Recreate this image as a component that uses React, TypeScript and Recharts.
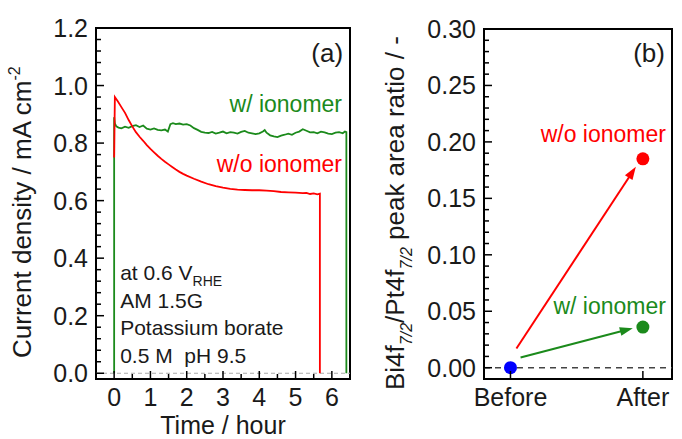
import React from "react";
import {
  ComposedChart,
  Line,
  Scatter,
  XAxis,
  YAxis,
  ReferenceLine,
  ReferenceArea,
  ReferenceDot,
} from "recharts";

const FONT = '"Liberation Sans", Arial, sans-serif';
const GREEN = "#1b8a1b";
const RED = "#ff0000";
const BLUE = "#0000ff";
const INK = "#1a1a1a";

// (a) chronoamperometry, current density vs time
const ionomerTime = [0, 0, 0.02, 0.06, 0.12, 0.2, 0.3, 0.4, 0.5, 0.6, 0.7, 0.8, 0.9, 1.0, 1.1, 1.2, 1.3, 1.4, 1.48, 1.55, 1.62, 1.7, 1.8, 1.9, 2.0, 2.1, 2.2, 2.3, 2.4, 2.5, 2.6, 2.7, 2.8, 2.9, 3.0, 3.1, 3.2, 3.3, 3.4, 3.5, 3.6, 3.7, 3.8, 3.9, 4.0, 4.1, 4.15, 4.2, 4.3, 4.4, 4.5, 4.6, 4.7, 4.8, 4.9, 5.0, 5.1, 5.2, 5.3, 5.4, 5.5, 5.6, 5.7, 5.8, 5.9, 6.0, 6.1, 6.2, 6.3, 6.36, 6.4, 6.4];
const ionomerCurrent = [0, 0.89, 0.868, 0.858, 0.854, 0.851, 0.857, 0.853, 0.859, 0.862, 0.856, 0.861, 0.85, 0.847, 0.851, 0.846, 0.844, 0.847, 0.84, 0.866, 0.869, 0.866, 0.868, 0.864, 0.866, 0.861, 0.852, 0.846, 0.839, 0.836, 0.835, 0.839, 0.833, 0.836, 0.84, 0.834, 0.838, 0.836, 0.833, 0.839, 0.842, 0.836, 0.834, 0.831, 0.834, 0.84, 0.845, 0.836, 0.827, 0.823, 0.821, 0.826, 0.829, 0.833, 0.829, 0.836, 0.84, 0.848, 0.843, 0.837, 0.838, 0.834, 0.84, 0.837, 0.833, 0.831, 0.836, 0.838, 0.834, 0.84, 0.838, 0];
const bareTime = [0, 0.02, 0.1, 0.2, 0.3, 0.4, 0.5, 0.6, 0.7, 0.8, 0.9, 1.0, 1.1, 1.2, 1.3, 1.4, 1.5, 1.6, 1.7, 1.8, 1.9, 2.0, 2.2, 2.4, 2.6, 2.8, 3.0, 3.2, 3.4, 3.6, 3.8, 4.0, 4.2, 4.4, 4.6, 4.8, 5.0, 5.2, 5.3, 5.4, 5.5, 5.6, 5.67, 5.67];
const bareCurrent = [0.75, 0.96, 0.945, 0.925, 0.905, 0.88, 0.858, 0.838, 0.822, 0.808, 0.793, 0.78, 0.768, 0.756, 0.745, 0.735, 0.726, 0.717, 0.708, 0.7, 0.693, 0.687, 0.676, 0.666, 0.657, 0.65, 0.645, 0.641, 0.638, 0.637, 0.636, 0.636, 0.635, 0.633, 0.63, 0.629, 0.628, 0.626, 0.627, 0.623, 0.625, 0.622, 0.624, 0];

const timeDomain = [-0.5, 6.5];
const currentDomain = [-0.02, 1.2];
const timeLabels = [0, 1, 2, 3, 4, 5, 6];
const currentLabels = [0, 0.2, 0.4, 0.6, 0.8, 1.0, 1.2];
const infoLines = ["AM 1.5G", "Potassium borate", "0.5 M\u00a0\u00a0pH 9.5"];

// (b) XPS peak area ratio
const stageLabels = ["Before", "After"];
const beforeRatio = [0];
const bareRatio = [0, 0.185];
const ionomerRatio = [0, 0.036];
const bareArrow = [[0.045, 0.017], [0.947, 0.178]];
const ionomerArrow = [[0.076, 0.009], [0.924, 0.035]];
const ratioDomain = [-0.01, 0.3];
const stageDomain = [-0.2, 1.22];
const ratioLabels = [0, 0.05, 0.1, 0.15, 0.2, 0.25, 0.3];

const zip = (xs: number[], ys: number[]) => xs.map((x, i) => ({ x, y: ys[i] }));
const ionomerRows = zip(ionomerTime, ionomerCurrent);
const bareRows = zip(bareTime, bareCurrent);

// minor ticks filled in between the labelled ones
const withMinor = (labels: number[], parts: number) => {
  const out: number[] = [];
  labels.forEach((v, i) => {
    out.push(v);
    if (i < labels.length - 1) {
      const step = (labels[i + 1] - v) / parts;
      for (let k = 1; k < parts; k++) out.push(+(v + step * k).toFixed(4));
    }
  });
  return out;
};

const isLabel = (labels: number[], v: number) => labels.some((l) => Math.abs(l - v) < 1e-6);

const yTick = (labels: number[], digits: number) => (p: any) => {
  const { x, y, payload } = p;
  const major = isLabel(labels, payload.value);
  return (
    <g>
      <line x1={x} y1={y} x2={x + (major ? 8 : 5)} y2={y} stroke="#000" strokeWidth={1.5} />
      {major && (
        <text x={x - 8} y={y} dy="0.36em" textAnchor="end" fontSize={25} fontFamily={FONT} fill={INK}>
          {payload.value.toFixed(digits)}
        </text>
      )}
    </g>
  );
};

const xTick = (labels: number[], fmt: (v: number) => string) => (p: any) => {
  const { x, y, payload } = p;
  const major = isLabel(labels, payload.value);
  return (
    <g>
      <line x1={x} y1={y} x2={x} y2={y - (major ? 8 : 5)} stroke="#000" strokeWidth={1.5} />
      {major && (
        <text x={x} y={y + 27} textAnchor="middle" fontSize={25} fontFamily={FONT} fill={INK}>
          {fmt(payload.value)}
        </text>
      )}
    </g>
  );
};

const Arrow = (p: any) => {
  const { x1, y1, x2, y2, stroke } = p;
  const dx = x2 - x1;
  const dy = y2 - y1;
  const len = Math.hypot(dx, dy) || 1;
  const ux = dx / len;
  const uy = dy / len;
  const head = 13;
  const half = 4.5;
  const bx = x2 - ux * head;
  const by = y2 - uy * head;
  return (
    <g>
      <line x1={x1} y1={y1} x2={bx + ux * 2} y2={by + uy * 2} stroke={stroke} strokeWidth={2} />
      <polygon
        points={`${x2},${y2} ${bx - uy * half},${by + ux * half} ${bx + uy * half},${by - ux * half}`}
        fill={stroke}
      />
    </g>
  );
};

const note = (text: string, color: string, size: number, anchor: "start" | "end" = "end") => (p: any) => {
  const vb = p.viewBox || {};
  return (
    <text x={vb.x} y={vb.y} textAnchor={anchor} fontSize={size} fontFamily={FONT} fill={color}>
      {text}
    </text>
  );
};

const infoBlock = (p: any) => {
  const vb = p.viewBox || {};
  return (
    <text x={vb.x} y={vb.y} fontSize={21} fontFamily={FONT} fill={INK}>
      <tspan x={vb.x}>at 0.6 V</tspan>
      <tspan fontSize={14} dy={6}>RHE</tspan>
      {infoLines.map((t, i) => (
        <tspan key={t} x={vb.x} dy={i === 0 ? 22 : 27.5}>
          {t}
        </tspan>
      ))}
    </text>
  );
};

function CurrentPanel() {
  return (
    <ComposedChart width={360} height={439} margin={{ top: 28, right: 10, left: 0, bottom: 0 }}>
      <XAxis
        type="number"
        dataKey="x"
        domain={timeDomain}
        allowDataOverflow
        ticks={withMinor(timeLabels, 2)}
        interval={0}
        tickSize={0}
        tickMargin={0}
        tickLine={false}
        axisLine={false}
        height={60}
        tick={xTick(timeLabels, (v) => String(v))}
        label={(p: any) => {
          const vb = p.viewBox || {};
          return (
            <text x={vb.x + vb.width / 2} y={vb.y + 55} textAnchor="middle" fontSize={25} fontFamily={FONT} fill={INK}>
              Time / hour
            </text>
          );
        }}
      />
      <YAxis
        type="number"
        domain={currentDomain}
        allowDataOverflow
        ticks={withMinor(currentLabels, 5)}
        interval={0}
        tickSize={0}
        tickMargin={0}
        tickLine={false}
        axisLine={false}
        width={96}
        tick={yTick(currentLabels, 1)}
        label={(p: any) => {
          const vb = p.viewBox || {};
          const x = vb.x + 31;
          const y = vb.y + 330;
          return (
            <text transform={`translate(${x},${y}) rotate(-90)`} fontSize={26} fontFamily={FONT} fill={INK}>
              Current density / mA cm
              <tspan fontSize={16} dy={-11}>-2</tspan>
            </text>
          );
        }}
      />
      <ReferenceLine y={0} stroke="#aaaaaa" strokeWidth={1.2} strokeDasharray="4 3" />
      <Line data={ionomerRows} dataKey="y" type="linear" stroke={GREEN} strokeWidth={1.8} dot={false} isAnimationActive={false} />
      <Line data={bareRows} dataKey="y" type="linear" stroke={RED} strokeWidth={1.8} dot={false} isAnimationActive={false} />
      <ReferenceArea
        x1={timeDomain[0]}
        x2={timeDomain[1]}
        y1={currentDomain[0]}
        y2={currentDomain[1]}
        fill="none"
        stroke="#000"
        strokeWidth={2}
        fillOpacity={0}
      />
      <ReferenceDot x={6.31} y={1.082} r={0} fill="none" stroke="none" label={note("(a)", INK, 26)} />
      <ReferenceDot x={6.28} y={0.908} r={0} fill="none" stroke="none" label={note("w/ ionomer", GREEN, 23)} />
      <ReferenceDot x={6.28} y={0.7} r={0} fill="none" stroke="none" label={note("w/o ionomer", RED, 23)} />
      <ReferenceDot x={0.165} y={0.325} r={0} fill="none" stroke="none" label={infoBlock} />
    </ComposedChart>
  );
}

function RatioPanel() {
  const dotShape = (color: string) => (p: any) => <circle cx={p.cx} cy={p.cy} r={6.5} fill={color} />;
  return (
    <ComposedChart width={322} height={439} margin={{ top: 29, right: 10, left: 0, bottom: 0 }}>
      <XAxis
        type="number"
        dataKey="x"
        domain={stageDomain}
        allowDataOverflow
        ticks={[0, 1]}
        interval={0}
        tickSize={0}
        tickMargin={0}
        tickLine={false}
        axisLine={false}
        height={60}
        tick={xTick([0, 1], (v) => stageLabels[v])}
      />
      <YAxis
        type="number"
        dataKey="y"
        domain={ratioDomain}
        allowDataOverflow
        ticks={withMinor(ratioLabels, 5)}
        interval={0}
        tickSize={0}
        tickMargin={0}
        tickLine={false}
        axisLine={false}
        width={124}
        tick={yTick(ratioLabels, 2)}
        label={(p: any) => {
          const vb = p.viewBox || {};
          const x = vb.x + 44;
          const y = vb.y + 361;
          return (
            <text transform={`translate(${x},${y}) rotate(-90)`} fontSize={26} fontFamily={FONT} fill={INK}>
              Bi4f
              <tspan fontSize={16} fontStyle="italic" dy={8}>7/2</tspan>
              <tspan dy={-8}>/Pt4f</tspan>
              <tspan fontSize={16} fontStyle="italic" dy={8}>7/2</tspan>
              <tspan dy={-8}> peak area ratio / -</tspan>
            </text>
          );
        }}
      />
      <ReferenceLine y={0} stroke="#444" strokeWidth={1.5} strokeDasharray="6 5" />
      <ReferenceLine
        segment={[
          { x: bareArrow[0][0], y: bareArrow[0][1] },
          { x: bareArrow[1][0], y: bareArrow[1][1] },
        ]}
        stroke={RED}
        shape={Arrow}
      />
      <ReferenceLine
        segment={[
          { x: ionomerArrow[0][0], y: ionomerArrow[0][1] },
          { x: ionomerArrow[1][0], y: ionomerArrow[1][1] },
        ]}
        stroke={GREEN}
        shape={Arrow}
      />
      <Scatter data={[{ x: 1, y: bareRatio[1] }]} fill={RED} shape={dotShape(RED)} isAnimationActive={false} />
      <Scatter data={[{ x: 1, y: ionomerRatio[1] }]} fill={GREEN} shape={dotShape(GREEN)} isAnimationActive={false} />
      <Scatter data={[{ x: 0, y: beforeRatio[0] }]} fill={BLUE} shape={dotShape(BLUE)} isAnimationActive={false} />
      <ReferenceArea
        x1={stageDomain[0]}
        x2={stageDomain[1]}
        y1={ratioDomain[0]}
        y2={ratioDomain[1]}
        fill="none"
        stroke="#000"
        strokeWidth={2}
        fillOpacity={0}
      />
      <ReferenceDot x={1.167} y={0.2708} r={0} fill="none" stroke="none" label={note("(b)", INK, 26)} />
      <ReferenceDot x={1.174} y={0.2} r={0} fill="none" stroke="none" label={note("w/o ionomer", RED, 23)} />
      <ReferenceDot x={1.174} y={0.0476} r={0} fill="none" stroke="none" label={note("w/ ionomer", GREEN, 23)} />
    </ComposedChart>
  );
}

export default function App() {
  return (
    <div style={{ position: "absolute", left: 0, top: 0, width: 682, height: 439, background: "#fff" }}>
      <div style={{ position: "absolute", left: 0, top: 0 }}>
        <CurrentPanel />
      </div>
      <div style={{ position: "absolute", left: 360, top: 0 }}>
        <RatioPanel />
      </div>
    </div>
  );
}
